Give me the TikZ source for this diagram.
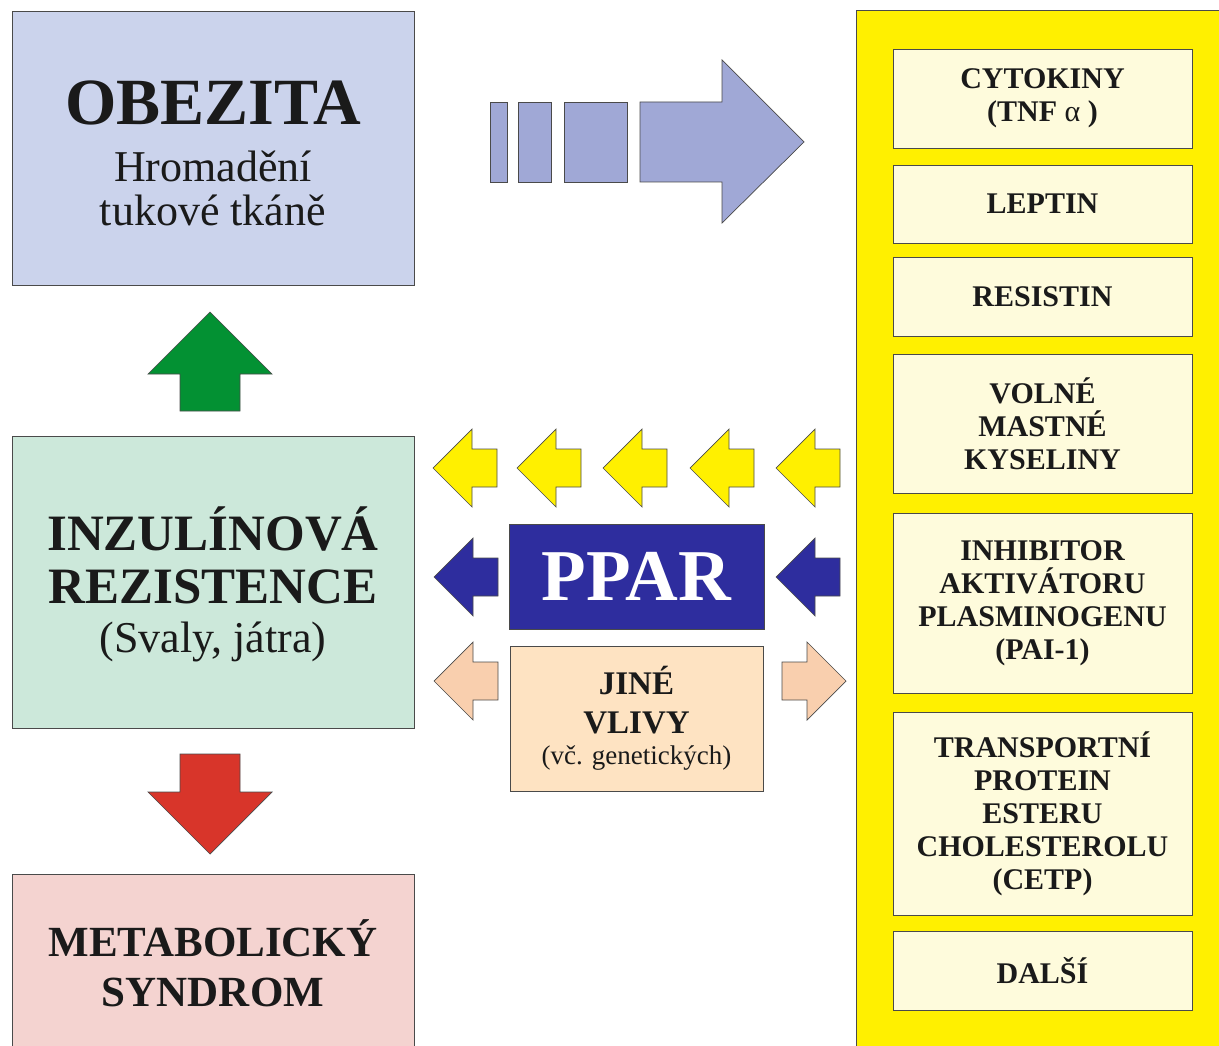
\documentclass[tikz,border=0pt]{standalone}
\usepackage{fontspec}
\setmainfont{Liberation Serif}
\usetikzlibrary{positioning}
\definecolor{cObez}{HTML}{CBD3EC}
\definecolor{cObezArr}{HTML}{A0A8D6}
\definecolor{cInzul}{HTML}{CCE8DA}
\definecolor{cMetab}{HTML}{F4D3D0}
\definecolor{cUp}{HTML}{039133}
\definecolor{cDown}{HTML}{D8352A}
\definecolor{cYel}{HTML}{FFF000}
\definecolor{cCream}{HTML}{FEFBDC}
\definecolor{cPpar}{HTML}{2E2D9E}
\definecolor{cPeach}{HTML}{F9CFAE}
\definecolor{cJine}{HTML}{FEE3C2}
\definecolor{cLine}{HTML}{4A4A4A}
\definecolor{cText}{HTML}{1A1A1A}
\tikzset{
  box/.style={draw=cLine, line width=0.9pt, inner sep=0pt, outer sep=0pt,
              align=center, text=cText},
  bigbox/.style={box, minimum width=402pt},
  listbox/.style={box, fill=cCream, minimum width=299pt,
                  font=\fontsize{30}{33}\selectfont\bfseries},
  shp/.style={draw=cLine, line width=0.7pt, line join=miter},
  pics/larrow/.style={code={
    \draw[pic actions] (0,0) -- (39,-39) -- (39,-19) -- (64,-19) -- (64,19)
      -- (39,19) -- (39,39) -- cycle;}}
}

\begin{document}
\begin{tikzpicture}[x=1pt, y=-1pt]
\path[use as bounding box, clip] (0,0) rectangle (1219,1046);
% left column
\node[bigbox, fill=cObez, minimum height=274pt, font=\fontsize{44}{44}\selectfont,
      text height=156pt] (obez) at (213,148)
  {{\fontsize{66}{66}\selectfont\bfseries OBEZITA}\\[13pt]Hromadění\\tukové tkáně};
\node[bigbox, fill=cInzul, minimum height=292pt, font=\fontsize{51}{53}\selectfont,
      text height=150pt] (inzul) at (213,582)
  {\textbf{INZULÍNOVÁ}\\\textbf{REZISTENCE}\\[-4pt]{\fontsize{44}{44}\selectfont (Svaly, játra)}};
\node[bigbox, fill=cMetab, minimum height=186pt, font=\fontsize{43}{50}\selectfont\bfseries,
      text height=80pt] (metab) at (213,967) {METABOLICKÝ\\SYNDROM};
\draw[shp, fill=cUp] (210,312) -- (272,374) -- (240,374) -- (240,411)
  -- (180,411) -- (180,374) -- (148,374) -- cycle;
\draw[shp, fill=cDown] (210,854) -- (272,792) -- (240,792) -- (240,754)
  -- (180,754) -- (180,792) -- (148,792) -- cycle;
% adipose products (right)
\node[draw=cLine, line width=1.2pt, fill=cYel, inner sep=0pt, minimum width=374pt,
      minimum height=1060pt, anchor=north west] (col) at (856,10) {};
\node[listbox, minimum height=99pt] (cyto) at (1042.5,98.5) {CYTOKINY\\(TNF {\mdseries α} )};
\node[listbox, minimum height=78pt] (lept) at (1042.5,204) {LEPTIN};
\node[listbox, minimum height=79pt] (resi) at (1042.5,296.5) {RESISTIN};
\node[listbox, minimum height=139pt] (voln) at (1042.5,423.5) {VOLNÉ\\MASTNÉ\\KYSELINY};
\node[listbox, minimum height=180pt] (inhi) at (1042.5,603) {INHIBITOR\\AKTIVÁTORU\\PLASMINOGENU\\(PAI-1)};
\node[listbox, minimum height=203pt] (tran) at (1042.5,813.5) {TRANSPORTNÍ\\PROTEIN\\ESTERU\\CHOLESTEROLU\\(CETP)};
\node[listbox, minimum height=79pt] (dals) at (1042.5,970.5) {DALŠÍ};
% obezita -> products
\draw[shp, fill=cObezArr] (490,102) rectangle (507,182);
\draw[shp, fill=cObezArr] (518,102) rectangle (551,182);
\draw[shp, fill=cObezArr] (564,102) rectangle (627,182);
\draw[shp, fill=cObezArr] (640,102) -- (722,102) -- (722,60) -- (804,142)
  -- (722,223) -- (722,182) -- (640,182) -- cycle;
% middle
\node[box, fill=cPpar, minimum width=255pt, minimum height=105pt, text=white,
      font=\fontsize{73}{73}\selectfont\bfseries] (ppar) at (636.5,576.5) {PPAR};
\node[box, fill=cJine, minimum width=253pt, minimum height=145pt,
      font=\fontsize{33}{39}\selectfont] (jine) at (636.5,718.5)
  {\textbf{JINÉ}\\\textbf{VLIVY}\\[-8pt]{\fontsize{27}{28}\selectfont (vč. genetických)}};
\foreach \x in {433,517,603,690,776}
  \pic[shp, fill=cYel] at (\x,468) {larrow};
\pic[shp, fill=cPpar] at (434,577) {larrow};
\pic[shp, fill=cPpar] at (776,577) {larrow};
\pic[shp, fill=cPeach] at (434,681) {larrow};
\pic[shp, fill=cPeach, rotate=180] at (846,681) {larrow};
\end{tikzpicture}
\end{document}
